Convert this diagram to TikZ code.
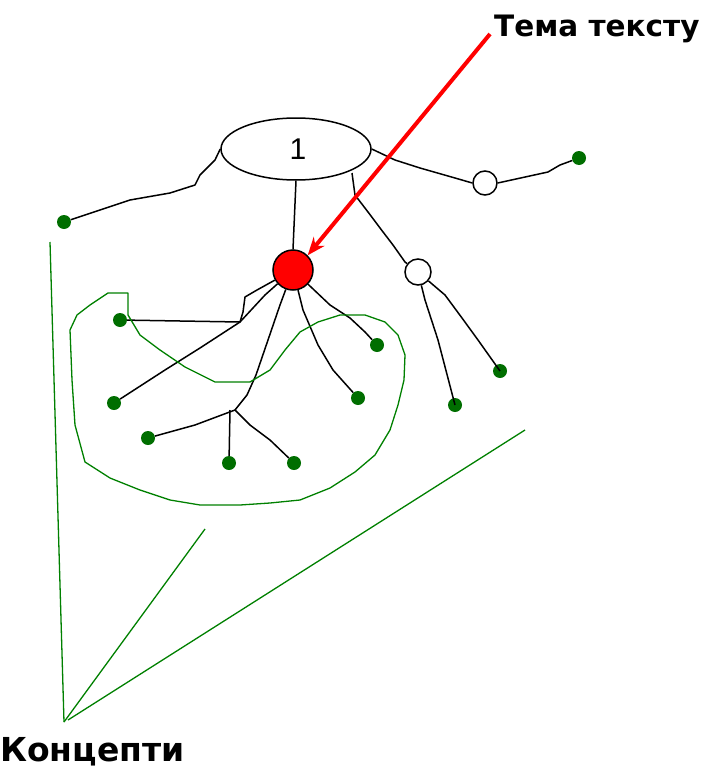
\documentclass[tikz,border=0pt]{standalone}
\usepackage{fontspec}
\setmainfont{Liberation Sans}
\newfontfamily\lblfont{DejaVu Sans}
\usetikzlibrary{arrows.meta,shapes.geometric}
\definecolor{dgreen}{RGB}{0,128,0}
\definecolor{dotgreen}{RGB}{0,110,0}
\begin{document}
\begin{tikzpicture}[x=1pt,y=-1pt,
  wire/.style={black,line width=1.5pt,line join=round},
  gline/.style={dgreen,line width=1.3pt,line join=round},
  gdot/.style={circle,fill=dotgreen,inner sep=0pt,minimum size=14pt},
  hollow/.style={circle,draw=black,line width=1.5pt,fill=white,inner sep=0pt,minimum size=26pt},
  lbl/.style={font=\lblfont\bfseries\fontsize{29.5}{30}\selectfont,inner sep=0pt}]
\useasboundingbox (0,0) rectangle (710,771);
% main nodes
\node[ellipse,draw,line width=1.5pt,minimum width=150pt,minimum height=62pt,inner sep=0pt,font=\fontsize{30}{30}\selectfont] (top) at (296,149) {\hspace*{4pt}1};
\node[circle,draw=black,line width=1.5pt,fill=red,minimum size=40pt,inner sep=0pt] (red) at (293,270) {};
\node[hollow,minimum size=24pt] (c1) at (485,183) {};
\node[hollow] (c2) at (418,272) {};
% green dots
\node[gdot] (d0) at (64,222) {};
\node[gdot] (d1) at (579,158) {};
\node[gdot] (d2) at (455,405) {};
\node[gdot] (d3) at (500,371) {};
\node[gdot] (d4) at (120,320) {};
\node[gdot] (d5) at (114,403) {};
\node[gdot] (d6) at (148,438) {};
\node[gdot] (d7) at (229,463) {};
\node[gdot] (d8) at (294,463) {};
\node[gdot] (d9) at (358,398) {};
\node[gdot] (d10) at (377,345) {};
\coordinate (j1) at (240,322);
\coordinate (j2) at (235,410);
% labels
\node[lbl,anchor=west] (t1) at (494,29) {Тема тексту};
\node[lbl,anchor=west,font=\lblfont\bfseries\fontsize{33}{33}\selectfont] (t2) at (0,752) {Концепти};
\coordinate (g0) at (50,242);
\coordinate (g1) at (64,722);
\coordinate (g2) at (68,720);
\coordinate (ga) at (205,529);
\coordinate (gb) at (525,430);
% black wires
\draw[wire] (top.south) -- (red.north);
\draw[wire] (top.west) -- (215,160) -- (200,175) -- (195,185) -- (170,193) -- (130,200) -- (100,210) -- (d0);
\draw[wire] (top.east) -- (395,160) -- (420,168) -- (455,178) -- (c1.west);
\draw[wire] (c1.east) -- (548,172) -- (560,165) -- (d1);
\draw[wire] (352,173) -- (355,195) -- (368,212) -- (380,228) -- (393,245) -- (405,262) -- (c2);
\draw[wire] (c2) -- (425,300) -- (438,340) -- (455,405);
\draw[wire] (c2) -- (445,295) -- (462,318) -- (478,340) -- (500,371);
\draw[wire] (red) -- (257,290) -- (245,297) -- (243,312) -- (j1) -- (d4);
\draw[wire] (red) -- (265,295) -- (j1) -- (200,348) -- (165,370) -- (d5);
\draw[wire] (red) -- (280,305) -- (268,340) -- (256,375) -- (247,395) -- (j2) -- (195,425) -- (d6);
\draw[wire] (230,410) -- (d7);
\draw[wire] (j2) -- (240,415) -- (250,425) -- (270,440) -- (d8);
\draw[wire] (red) -- (303,310) -- (318,345) -- (333,370) -- (d9);
\draw[wire] (red) -- (330,305) -- (350,318) -- (365,332) -- (d10);
% green blob
\draw[gline] (128,300) -- (128,293) -- (108,293) -- (90,305) -- (77,315) -- (70,330) -- (72,380) -- (75,425) -- (85,462) -- (110,478) -- (140,490) -- (170,500) -- (200,505) -- (240,505) -- (270,503) -- (300,500) -- (330,488) -- (355,472) -- (375,455) -- (390,430) -- (398,405) -- (404,380) -- (405,355) -- (398,335) -- (385,322) -- (365,315) -- (340,315) -- (318,322) -- (300,332) -- (285,350) -- (270,370) -- (250,382) -- (215,382) -- (185,367) -- (160,350) -- (140,335) -- (128,315) -- cycle;
% green pointer lines
\draw[gline] (g0) -- (g1);
\draw[gline] (g1) -- (ga);
\draw[gline] (g2) -- (gb);
% red arrow
\draw[red,line width=4pt,-{Stealth[length=18pt,width=14pt]}] (t1.west) ++(-4,5) -- (red.north east);
\end{tikzpicture}
\end{document}
